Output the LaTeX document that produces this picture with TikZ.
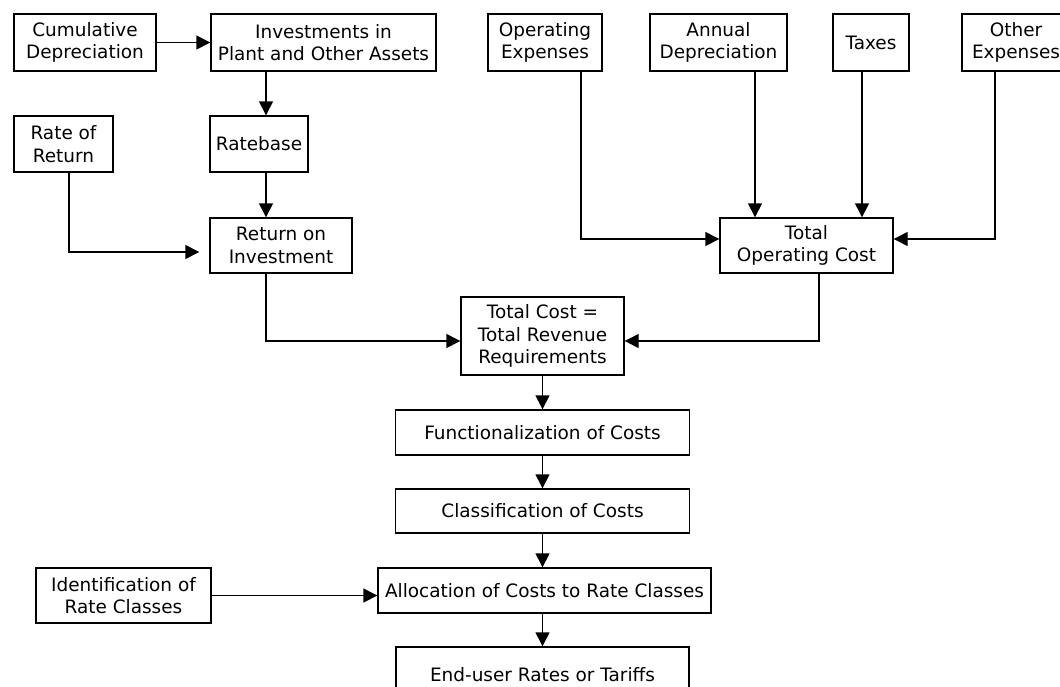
\documentclass[tikz,border=0pt]{standalone}
\usepackage{fontspec}
\setmainfont{DejaVu Sans}
\usetikzlibrary{arrows.meta}
\begin{document}
\begin{tikzpicture}[x=0.02cm, y=-0.02cm, line width=0.8pt,
  every node/.style={font=\fontsize{10.5}{12.8}\selectfont},
  box/.style 2 args={draw,align=center,inner sep=1pt,minimum width=#1*0.02cm,minimum height=#2*0.02cm},
  arr/.style={-{Triangle[length=0.28cm,width=0.28cm]}}]
\useasboundingbox (0,0) rectangle (1060,686);
% top row
\node[box={142}{57}] (cumdep) at (85,42.5) {Cumulative\\Depreciation};
\node[box={225}{57}] (invest) at (323.5,42.5) {Investments in\\Plant and Other Assets};
\node[box={114}{57}] (opex) at (545,42.5) {Operating\\Expenses};
\node[box={137}{57}] (anndep) at (718.5,42.5) {Annual\\Depreciation};
\node[box={76}{57}] (taxes) at (871,42.5) {Taxes};
\node[box={108}{57}] (othexp) at (1016,42.5) {Other\\Expenses};
% ratebase side
\node[box={99}{56}] (ror) at (63.5,144) {Rate of\\Return};
\node[box={98}{56}] (ratebase) at (259,144) {Ratebase};
\node[box={142}{55}] (roi) at (281,245.5) {Return on\\Investment};
\node[box={173}{55}] (toc) at (806.5,245.5) {Total\\Operating Cost};
\node[box={163}{78}] (total) at (542.5,336) {Total Cost =\\Total Revenue\\Requirements};
% cost allocation chain
\node[box={294}{45}] (func) at (542.5,432.5) {Functionalization of Costs};
\node[box={294}{44}] (class) at (542.5,511) {Classification of Costs};
\node[box={333}{45}] (alloc) at (544.5,590.5) {Allocation of Costs to Rate Classes};
\node[box={175}{55}] (ident) at (123.5,595.5) {Identification of\\Rate Classes};
\node[box={293}{56}] (enduser) at (542.5,675) {End-user Rates or Tariffs};
% connectors
\draw[arr] (cumdep.east) -- (invest.west);
\draw[arr] ([xshift=0.14cm]ratebase.north |- invest.south) -- ([xshift=0.14cm]ratebase.north);
\draw[arr] ([xshift=0.14cm]ratebase.south) -- ([xshift=0.14cm]ratebase.south |- roi.north);
\draw[arr,shorten >=0.2cm] ([xshift=0.11cm]ror.south) |- ([yshift=-0.13cm]roi.west);
\draw[arr] ([xshift=-0.3cm]roi.south) |- ([yshift=-0.1cm]total.west);
\draw[arr] ([xshift=0.25cm]toc.south) |- ([yshift=-0.1cm]total.east);
\draw[arr] ([xshift=0.72cm]opex.south) |- ([yshift=0.13cm]toc.west);
\draw[arr] ([xshift=0.73cm]anndep.south) -- ([xshift=0.73cm]anndep.south |- toc.north);
\draw[arr] ([xshift=-0.18cm]taxes.south) -- ([xshift=-0.18cm]taxes.south |- toc.north);
\draw[arr] ([xshift=-0.42cm]othexp.south) |- ([yshift=0.13cm]toc.east);
\draw[arr] (total.south) -- (func.north);
\draw[arr] (func.south) -- (class.north);
\draw[arr] (class.south) -- (class.south |- alloc.north);
\draw[arr] (class.south |- alloc.south) -- (class.south |- enduser.north);
\draw[arr] (ident.east) -- (ident.east -| alloc.west);
\end{tikzpicture}
\end{document}
